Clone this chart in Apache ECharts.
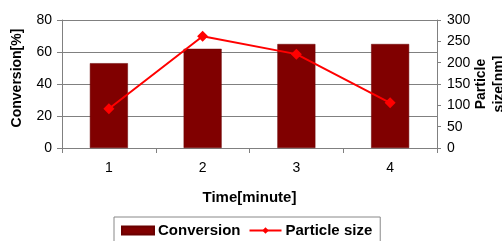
<!DOCTYPE html>
<html>
<head>
<meta charset="utf-8">
<script src="https://cdn.jsdelivr.net/npm/echarts@6/dist/echarts.min.js"></script>
<style>html,body{margin:0;padding:0;background:#fff}#c{width:502px;height:241px}</style>
</head>
<body>
<div id="c"></div>
<script>
var categories = ['1', '2', '3', '4'];
var conversion = [53, 62, 65, 65];
var particleSize = [92, 262, 220, 106];
var leftTicks = [0, 20, 40, 60, 80];
var rightTicks = [0, 50, 100, 150, 200, 250, 300];

var FONT = 'Liberation Sans';
var chart = echarts.init(document.getElementById('c'), null, {renderer: 'canvas'});
chart.setOption({
  animation: false,
  backgroundColor: '#fff',
  textStyle: {fontFamily: FONT},
  grid: {left: 62, right: 65, top: 20, bottom: 93, containLabel: false, outerBoundsMode: 'none'},
  legend: {
    left: 114, top: 217,
    itemGap: 8,
    itemWidth: 32, itemHeight: 8,
    borderColor: '#888', borderWidth: 1, padding: [6, 8, 6, 7],
    textStyle: {fontFamily: FONT, fontSize: 15, fontWeight: 'bold', color: '#000', padding: [0, 0, 0, -1]},
    data: [
      {name: 'Conversion', icon: 'rect'},
      {name: 'Particle size'}
    ]
  },
  xAxis: {
    type: 'category',
    data: categories,
    boundaryGap: true,
    name: 'Time[minute]',
    nameLocation: 'middle',
    nameGap: 42,
    nameMoveOverlap: false,
    nameTextStyle: {fontFamily: FONT, fontSize: 15, fontWeight: 'bold', color: '#000'},
    axisLine: {lineStyle: {color: '#808080', width: 1}},
    axisTick: {show: true, alignWithLabel: false, length: 5, lineStyle: {color: '#808080'}},
    axisLabel: {fontFamily: FONT, fontSize: 14, color: '#000', margin: 13},
    splitLine: {show: false}
  },
  yAxis: [
    {
      type: 'value',
      min: leftTicks[0], max: leftTicks[leftTicks.length - 1], interval: 20,
      name: 'Conversion[%]',
      nameLocation: 'middle',
      nameRotate: 90,
      nameGap: 38,
      nameMoveOverlap: false,
      nameTextStyle: {fontFamily: FONT, fontSize: 14, fontWeight: 'bold', color: '#000', padding: [0, 0, 0, 12]},
      axisLine: {show: true, lineStyle: {color: '#808080'}},
      axisTick: {show: true, length: 5, lineStyle: {color: '#808080'}},
      axisLabel: {fontFamily: FONT, fontSize: 14, color: '#000', margin: 10},
      splitLine: {show: true, lineStyle: {color: '#808080', width: 1}}
    },
    {
      type: 'value',
      position: 'right',
      min: rightTicks[0], max: rightTicks[rightTicks.length - 1], interval: 50,
      name: 'Particle\nsize[nm]',
      nameLocation: 'middle',
      nameRotate: 90,
      nameGap: 35,
      nameMoveOverlap: false,
      nameTextStyle: {fontFamily: FONT, fontSize: 14, fontWeight: 'bold', color: '#000', lineHeight: 18},
      axisLine: {show: true, lineStyle: {color: '#808080'}},
      axisTick: {show: true, inside: false, length: 4, lineStyle: {color: '#808080'}},
      axisLabel: {fontFamily: FONT, fontSize: 14, color: '#000', margin: 10},
      splitLine: {show: false}
    }
  ],
  series: [
    {
      name: 'Conversion',
      type: 'bar',
      yAxisIndex: 0,
      data: conversion,
      barWidth: 38,
      itemStyle: {color: '#800000', borderColor: '#6a0000', borderWidth: 0.5}
    },
    {
      name: 'Particle size',
      type: 'line',
      yAxisIndex: 1,
      data: particleSize,
      symbol: 'diamond',
      symbolSize: 11,
      lineStyle: {color: '#ff0000', width: 2},
      itemStyle: {color: '#ff0000'}
    }
  ]
});
</script>
</body>
</html>
